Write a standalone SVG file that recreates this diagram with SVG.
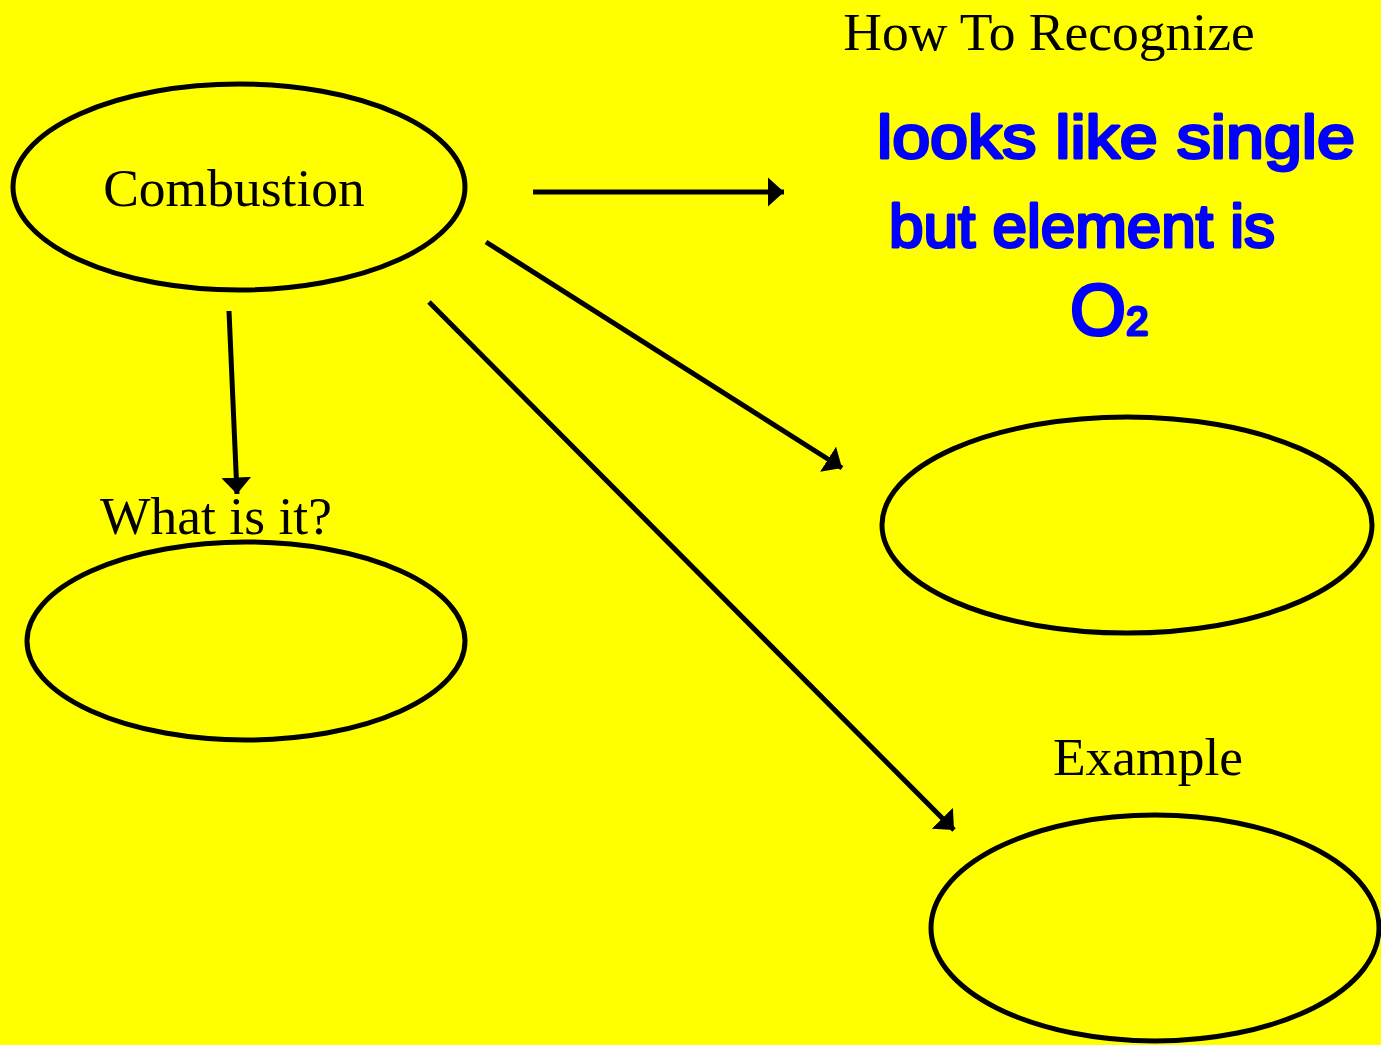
<svg xmlns="http://www.w3.org/2000/svg" width="1381" height="1045" viewBox="0 0 1381 1045">
  <defs>
    <marker id="head" viewBox="0 0 10 18" refX="10" refY="9" markerWidth="3.3" markerHeight="6" markerUnits="strokeWidth" orient="auto">
      <path d="M0,0 L10,9 L0,18 Z" fill="#000"/>
    </marker>
  </defs>
  <style>
    .node ellipse { fill: #ffff00; stroke: #000; stroke-width: 5; }
    .label { font-family: "Liberation Serif", "Times New Roman", serif; font-size: 53.5px; fill: #000; }
    .edges line { stroke: #000; stroke-width: 5; marker-end: url(#head); }
    .ink { font-family: "Liberation Sans", Arial, sans-serif; fill: #0000ff; stroke: #0000ff; stroke-width: 3; stroke-linejoin: round; }
  </style>
  <rect width="1381" height="1045" fill="#ffff00"/>

  <g id="combustion" class="node">
    <ellipse cx="239" cy="187" rx="226" ry="103"/>
    <text class="label" x="234" y="206" text-anchor="middle">Combustion</text>
  </g>

  <g id="what-is-it" class="node">
    <text class="label" x="216" y="534" text-anchor="middle">What is it?</text>
    <ellipse cx="246" cy="641" rx="219" ry="99"/>
  </g>

  <g id="how-to-recognize" class="node">
    <text class="label" x="1049" y="50" text-anchor="middle">How To Recognize</text>
    <text class="ink" x="877" y="158" font-size="62" textLength="478" lengthAdjust="spacingAndGlyphs">looks like single</text>
    <text class="ink" x="889" y="247" font-size="62" textLength="386" lengthAdjust="spacingAndGlyphs">but element is</text>
    <text class="ink" x="1070" y="335" font-size="72">O<tspan font-size="40">2</tspan></text>
  </g>

  <g id="middle-right" class="node">
    <ellipse cx="1127" cy="525" rx="245" ry="108"/>
  </g>

  <g id="example" class="node">
    <text class="label" x="1148" y="775" text-anchor="middle">Example</text>
    <ellipse cx="1155" cy="928" rx="224" ry="113"/>
  </g>

  <g id="connectors" class="edges">
    <line x1="533" y1="192" x2="784" y2="192"/>
    <line x1="229" y1="311" x2="237" y2="494"/>
    <line x1="486" y1="242" x2="842" y2="468"/>
    <line x1="429" y1="302" x2="954" y2="830"/>
  </g>
</svg>
